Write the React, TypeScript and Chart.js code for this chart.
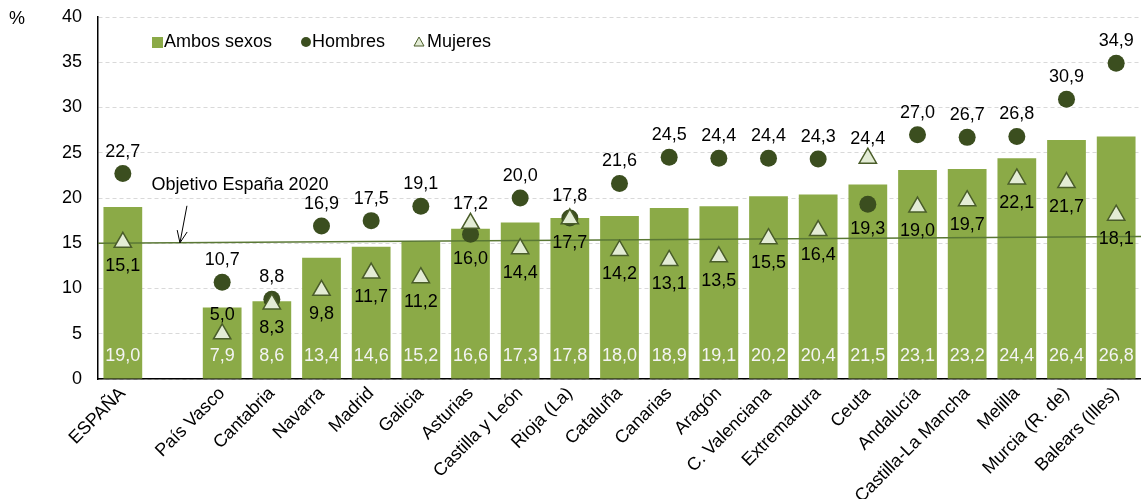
import React, { useEffect, useRef } from 'react';
import { Chart, registerables } from 'chart.js';

Chart.register(...registerables);

const categories = [
  'ESPAÑA', '', 'País Vasco', 'Cantabria', 'Navarra', 'Madrid', 'Galicia', 'Asturias',
  'Castilla y León', 'Rioja (La)', 'Cataluña', 'Canarias', 'Aragón', 'C. Valenciana',
  'Extremadura', 'Ceuta', 'Andalucía', 'Castilla-La Mancha', 'Melilla', 'Murcia (R. de)', 'Balears (Illes)',
];
const ambosSexos = [19.0, null, 7.9, 8.6, 13.4, 14.6, 15.2, 16.6, 17.3, 17.8, 18.0, 18.9, 19.1, 20.2, 20.4, 21.5, 23.1, 23.2, 24.4, 26.4, 26.8];
const hombres = [22.7, null, 10.7, 8.8, 16.9, 17.5, 19.1, 16.0, 20.0, 17.8, 21.6, 24.5, 24.4, 24.4, 24.3, 19.3, 27.0, 26.7, 26.8, 30.9, 34.9];
const mujeres = [15.1, null, 5.0, 8.3, 9.8, 11.7, 11.2, 17.2, 14.4, 17.7, 14.2, 13.1, 13.5, 15.5, 16.4, 24.4, 19.0, 19.7, 22.1, 21.7, 18.1];
const yMin = 0;
const yMax = 40;
const yStep = 5;
const objetivoLabel = 'Objetivo España 2020';
const objetivoStart = 15.0;
const objetivoEnd = 15.75;

const FONT = '"Liberation Sans", Arial, sans-serif';
const FS = 18;
const BAR = '#8BAA47';
const DARK = '#3B4E1F';
const TRI_FILL = '#E3ECD5';
const TRI_STROKE = '#4A5D2A';
const LINE = '#5A7835';

const fmt = (v: number) => v.toFixed(1).replace('.', ',');

const customPlugin = {
  id: 'custom',
  afterDatasetDraw(chart: any, args: any) {
    if (args.index !== 0) return;
    const ctx = chart.ctx;
    const { chartArea } = chart;
    const y = chart.scales.y;
    ctx.save();
    ctx.strokeStyle = LINE;
    ctx.lineWidth = 1.5;
    ctx.beginPath();
    ctx.moveTo(chartArea.left, y.getPixelForValue(objetivoStart));
    ctx.lineTo(chartArea.right, y.getPixelForValue(objetivoEnd));
    ctx.stroke();
    ctx.fillStyle = '#F4F4F4';
    ctx.font = `${FS}px ${FONT}`;
    ctx.textAlign = 'center';
    ctx.textBaseline = 'middle';
    const meta = chart.getDatasetMeta(0);
    meta.data.forEach((el: any, i: number) => {
      const v = ambosSexos[i];
      if (v == null) return;
      ctx.fillText(fmt(v), el.x, el.base - 22);
    });
    ctx.restore();
  },
  afterDatasetsDraw(chart: any) {
    const ctx = chart.ctx;
    const x = chart.scales.x;
    const y = chart.scales.y;
    ctx.save();
    ctx.fillStyle = '#000';
    ctx.font = `${FS}px ${FONT}`;
    ctx.textAlign = 'center';
    ctx.textBaseline = 'middle';
    categories.forEach((_, i) => {
      const h = hombres[i];
      const m = mujeres[i];
      if (h == null || m == null) return;
      const px = x.getPixelForValue(i);
      const hy = y.getPixelForValue(h);
      const my = y.getPixelForValue(m);
      const hAbove = h >= m;
      ctx.fillText(fmt(h), px, hAbove ? hy - 22 : hy + 25);
      const mAbove = m > h || m < 6;
      ctx.fillText(fmt(m), px, mAbove ? my - 19 : my + 24);
    });
    const tipX = x.getPixelForValue(1.15);
    const tipY = y.getPixelForValue(objetivoStart + 0.05);
    const tailX = tipX + 7;
    const tailY = tipY - 37;
    ctx.strokeStyle = '#000';
    ctx.lineWidth = 1;
    ctx.beginPath();
    ctx.moveTo(tailX, tailY);
    ctx.lineTo(tipX, tipY);
    const ang = Math.atan2(tipY - tailY, tipX - tailX);
    const len = 13;
    ctx.moveTo(tipX, tipY);
    ctx.lineTo(tipX - len * Math.cos(ang - 0.4), tipY - len * Math.sin(ang - 0.4));
    ctx.moveTo(tipX, tipY);
    ctx.lineTo(tipX - len * Math.cos(ang + 0.4), tipY - len * Math.sin(ang + 0.4));
    ctx.stroke();
    ctx.fillText(objetivoLabel, x.getPixelForValue(2.36), y.getPixelForValue(21.45));
    ctx.restore();
  },
  afterDraw(chart: any) {
    const ctx = chart.ctx;
    const { chartArea } = chart;
    ctx.save();
    ctx.font = `${FS}px ${FONT}`;
    ctx.textBaseline = 'middle';
    ctx.fillStyle = '#000';
    ctx.textAlign = 'left';
    ctx.fillText('%', 9, chartArea.top + 2);
    const ly = chartArea.top + 25;
    let lx = chartArea.left + 54;
    ctx.fillStyle = BAR;
    ctx.fillRect(lx, ly - 5, 11, 11);
    ctx.fillStyle = '#000';
    ctx.fillText('Ambos sexos', lx + 12, ly);
    lx = chartArea.left + 208;
    ctx.fillStyle = DARK;
    ctx.beginPath();
    ctx.arc(lx, ly, 5, 0, Math.PI * 2);
    ctx.fill();
    ctx.fillStyle = '#000';
    ctx.fillText('Hombres', lx + 6, ly);
    lx = chartArea.left + 321;
    ctx.fillStyle = TRI_FILL;
    ctx.strokeStyle = TRI_STROKE;
    ctx.lineWidth = 1;
    ctx.beginPath();
    ctx.moveTo(lx, ly - 5);
    ctx.lineTo(lx + 5, ly + 4);
    ctx.lineTo(lx - 5, ly + 4);
    ctx.closePath();
    ctx.fill();
    ctx.stroke();
    ctx.fillStyle = '#000';
    ctx.fillText('Mujeres', lx + 8, ly);
    ctx.restore();
  },
};

export default function App() {
  const ref = useRef<HTMLCanvasElement>(null);
  useEffect(() => {
    document.body.style.margin = '0';
    const chart = new Chart(ref.current!, {
      type: 'bar',
      data: {
        labels: categories,
        datasets: [
          {
            type: 'bar',
            label: 'Ambos sexos',
            data: ambosSexos as any,
            backgroundColor: BAR,
            categoryPercentage: 1,
            barPercentage: 0.78,
            order: 3,
          },
          {
            type: 'line',
            label: 'Hombres',
            data: hombres as any,
            showLine: false,
            pointStyle: 'circle',
            pointRadius: 8.5,
            pointBackgroundColor: DARK,
            pointBorderColor: DARK,
            pointBorderWidth: 0,
            order: 2,
          },
          {
            type: 'line',
            label: 'Mujeres',
            data: mujeres as any,
            showLine: false,
            pointStyle: 'triangle',
            pointRadius: 10,
            pointBackgroundColor: TRI_FILL,
            pointBorderColor: TRI_STROKE,
            pointBorderWidth: 1.5,
            order: 1,
          },
        ],
      },
      options: {
        responsive: true,
        maintainAspectRatio: false,
        animation: false,
        layout: { autoPadding: false, padding: { top: 17, right: 0, left: 0, bottom: 0 } },
        plugins: { legend: { display: false }, tooltip: { enabled: false } },
        scales: {
          x: {
            grid: { display: false, drawTicks: false },
            border: { display: true, color: '#000', width: 1.5 },
            ticks: {
              autoSkip: false,
              maxRotation: 45,
              minRotation: 45,
              color: '#000',
              font: { family: FONT, size: FS },
              padding: 4,
            },
            afterFit: (s: any) => { s.height = 120; s.paddingLeft = 0; s.paddingRight = 0; },
          },
          y: {
            min: yMin,
            max: yMax,
            grid: { color: '#D9D9D9', drawTicks: false, lineWidth: 1 },
            border: { display: true, color: '#000', width: 1.5, dash: [4, 3] },
            ticks: {
              stepSize: yStep,
              color: '#000',
              font: { family: FONT, size: FS },
              padding: 16,
            },
            afterFit: (s: any) => { s.width = 98; s.paddingTop = 0; s.paddingBottom = 0; },
          },
        },
      },
      plugins: [customPlugin],
    });
    return () => chart.destroy();
  }, []);
  return (
    <div style={{ width: 1141, height: 499, position: 'relative' }}>
      <canvas ref={ref} />
    </div>
  );
}
